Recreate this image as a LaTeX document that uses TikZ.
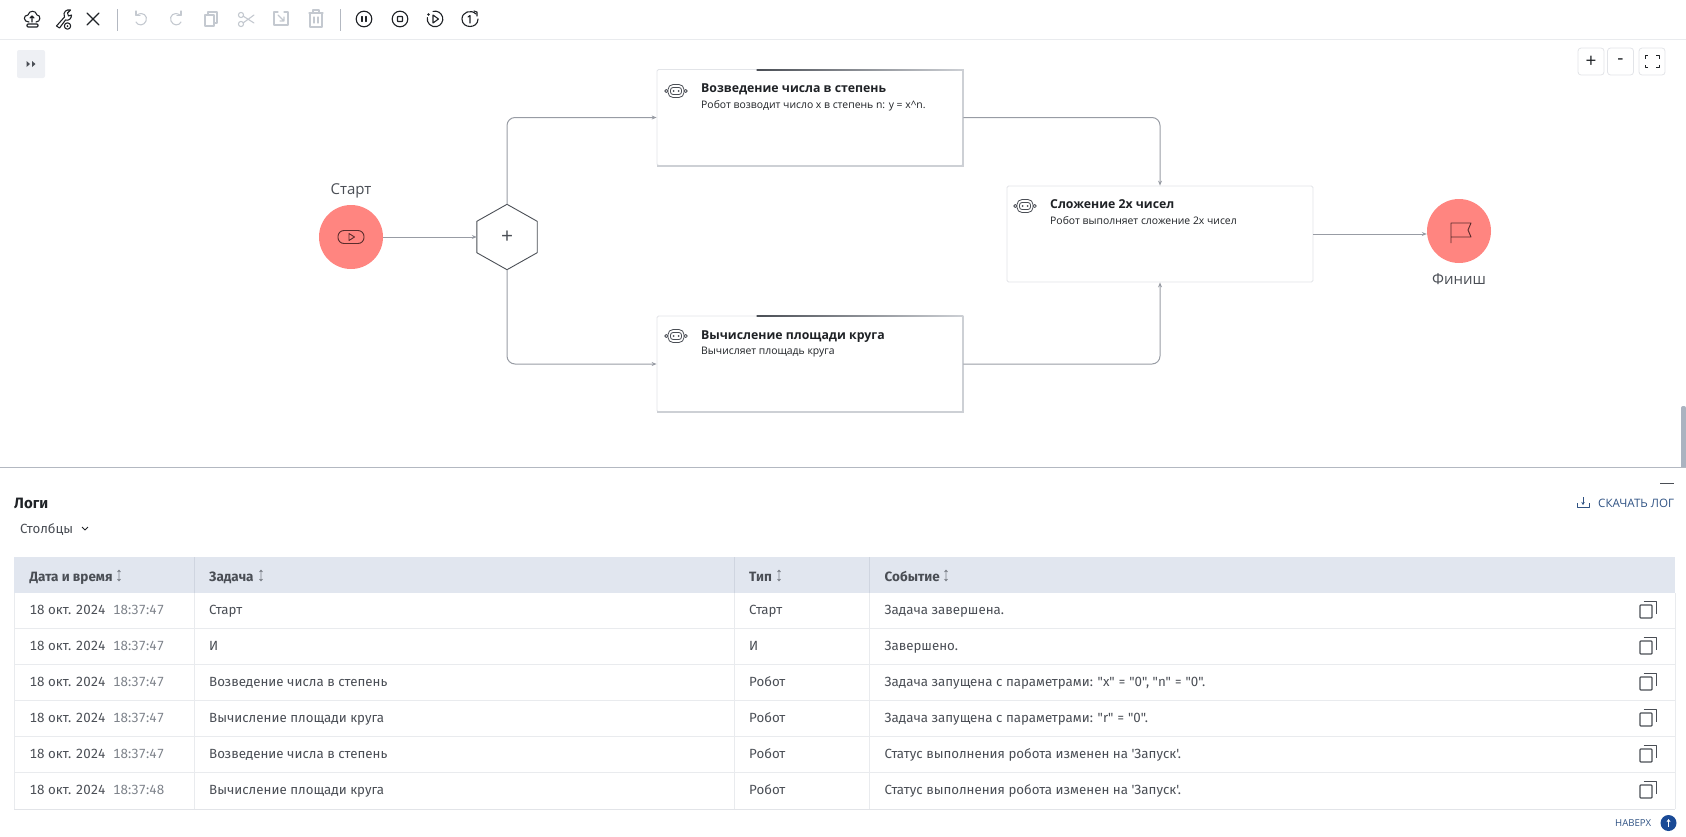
\documentclass[tikz,border=0pt]{standalone}
\usepackage{fontspec}
\setmainfont{Open Sans}
\newfontfamily\plexlike{Fira Sans}[Numbers=Monospaced]
\usetikzlibrary{arrows.meta}
\definecolor{startred}{HTML}{FF8580}
\definecolor{darkred}{HTML}{5A2C2C}
\definecolor{inkdark}{HTML}{1F2226}
\definecolor{inkgrey}{HTML}{4A4E55}
\definecolor{timegrey}{HTML}{7D828A}
\definecolor{flowgrey}{HTML}{989CA4}
\definecolor{iconoff}{HTML}{C4C9D0}
\definecolor{cardedge}{HTML}{E2E4E8}
\definecolor{cardshade}{HTML}{CDD0D5}
\definecolor{headfill}{HTML}{E1E6EF}
\definecolor{headline}{HTML}{CFD5E0}
\definecolor{rowline}{HTML}{E9EBEE}
\definecolor{btnfill}{HTML}{EEF0F4}
\definecolor{linkblue}{HTML}{2F5283}
\definecolor{topblue}{HTML}{1A4A96}
\definecolor{barline}{HTML}{B3B8C1}
\definecolor{scrollgrey}{HTML}{AAB3C0}
\tikzset{
	flowline/.style={flowgrey,line width=1pt,rounded corners=8pt,-{Stealth[length=5pt,width=4pt]}},
	eventdisc/.style={circle,fill=startred,minimum size=64pt,inner sep=0},
	eventname/.style={inner sep=0,text=inkgrey,font=\fontsize{15}{18}\selectfont},
	cardbox/.style={draw=cardedge,fill=white,line width=.8pt,rounded corners=1.5pt,minimum width=306pt,minimum height=96pt,inner sep=0},
	cardtitle/.style={anchor=base west,inner sep=0,text=inkdark,font=\fontsize{12.3}{16}\selectfont\bfseries},
	carddesc/.style={anchor=base west,inner sep=0,text=inkdark,font=\fontsize{10.4}{12}\selectfont},
	celltext/.style={anchor=base west,inner sep=0,text=inkgrey,font=\plexlike\fontsize{13.3}{16}\selectfont},
	headtext/.style={celltext,font=\plexlike\fontsize{13.5}{16}\selectfont\bfseries},
	zoombtn/.style={draw=cardedge,fill=white,line width=.8pt,rounded corners=3pt,minimum width=26pt,minimum height=27pt,inner sep=0,text=inkdark,font=\fontsize{19}{20}\selectfont},
	iconon/.style={inkdark,line width=1.1pt,line cap=round,line join=round},
	icongrey/.style={iconoff,line width=1.1pt,line cap=round,line join=round},
	pics/roboticon/.style={code={
		\draw[inkgrey,line width=.8pt,rounded corners=5pt] (-8,-6.5) rectangle (8,6.5);
		\draw[inkgrey,line width=.8pt,rounded corners=2.5pt] (-5.5,-3.5) rectangle (5.5,3.5);
		\fill[inkgrey] (-2.5,0) circle (1pt) (2.5,0) circle (1pt);
		\draw[inkgrey,line width=.8pt] (-9.7,0) circle (1.6pt) (9.7,0) circle (1.6pt);
	}},
	pics/copyicon/.style={code={
		\draw[inkgrey,line width=1.2pt,rounded corners=.8pt] (-8.5,-5) rectangle (3.5,8);
		\draw[inkgrey,line width=1pt] (-5,-9) -- (7.5,-9) -- (7.5,4);
	}},
	pics/sorticon/.style={code={
		\draw[timegrey,line width=.7pt] (0,-5.5) -- (0,5.5) (-1.5,-3.5) -- (0,-5.5) -- (1.5,-3.5) (-1.5,3.5) -- (0,5.5) -- (1.5,3.5);
	}},
}
\begin{document}
\begin{tikzpicture}[x=1pt,y=-1pt,>=stealth,line join=round]
	\useasboundingbox (0,0) rectangle (1686,836);
	% toolbar
	\draw[rowline,line width=.8pt] (0,39.5) -- (1686,39.5);
	\draw[barline,line width=.8pt] (117.5,9) -- (117.5,31);
	\draw[barline,line width=.8pt] (340.5,9) -- (340.5,31);
	\begin{scope}[shift={(32,19)},iconon]
		\draw (-3,3) .. controls (-9,3) and (-9,-4) .. (-4,-4) .. controls (-3,-9) and (4,-9) .. (5,-4) .. controls (9,-4) and (9,3) .. (4,3);
		\draw (0,3) -- (0,-3) (-2,-1) -- (0,-3) -- (2,-1);
		\draw[rounded corners=1pt] (-5,5) rectangle (6,8);
	\end{scope}
	\begin{scope}[shift={(62.5,19)},iconon]
		\draw (-6,7) -- (2,-2) .. controls (0,-7) and (4,-10) .. (8,-9) -- (5,-6) -- (6,-3) -- (9,-4) .. controls (9,0) and (6,2) .. (3,1) -- (-3,9) -- cycle;
		\draw (5,7) circle (3.2pt);
		\fill[inkdark] (5,7) circle (1pt);
	\end{scope}
	\draw[iconon] (87,13) -- (99,25) (99,13) -- (87,25);
	\begin{scope}[shift={(141,19)},icongrey]
		\draw (-4,-4) .. controls (2,-8) and (7,-3) .. (5,2) .. controls (3,7) and (-3,7) .. (-5,3);
		\draw (-5,-8) -- (-5,-3.5) -- (-1,-3.5);
	\end{scope}
	\begin{scope}[shift={(176,19)},icongrey]
		\draw (4,-4) .. controls (-2,-8) and (-7,-3) .. (-5,2) .. controls (-3,7) and (3,7) .. (5,3);
		\draw (5,-8) -- (5,-3.5) -- (1,-3.5);
	\end{scope}
	\begin{scope}[shift={(211,19)},icongrey]
		\draw (-6,-4) rectangle (3,7);
		\draw (-3,-4) -- (-3,-7) -- (6,-7) -- (6,4) -- (3,4);
	\end{scope}
	\begin{scope}[shift={(246,19)},icongrey]
		\draw (-5,-4) circle (2.6pt) (-5,5) circle (2.6pt);
		\draw (-3,-3) -- (8,4) (-3,4) -- (8,-4);
	\end{scope}
	\begin{scope}[shift={(281,19)},icongrey]
		\draw (-3,-7) -- (-7,-7) -- (-7,6) -- (7,6) -- (7,-7) -- (3,-7);
		\draw (-3,-4) -- (3,2) (3,-2) -- (3,2) -- (-1,2);
	\end{scope}
	\begin{scope}[shift={(316,19)},icongrey]
		\draw (-7,-6) -- (7,-6) (-3,-6) -- (-3,-9) -- (3,-9) -- (3,-6);
		\draw (-6,-6) -- (-6,8) -- (6,8) -- (6,-6);
		\draw (-2,-2) -- (-2,4) (2,-2) -- (2,4);
	\end{scope}
	\begin{scope}[shift={(364,19)},iconon]
		\draw (0,0) circle (7.8pt);
		\draw (-2,-2.5) -- (-2,2.5) (2,-2.5) -- (2,2.5);
	\end{scope}
	\begin{scope}[shift={(400,19)},iconon]
		\draw (0,0) circle (7.8pt);
		\draw[rounded corners=.5pt] (-2.5,-2.5) rectangle (2.5,2.5);
	\end{scope}
	\begin{scope}[shift={(435,19)},iconon]
		\draw (-2,-7.6) arc (105:-190:7.8pt);
		\draw (-2,-4) -- (3.5,0) -- (-2,4) -- cycle;
		\fill[inkdark] (-6.5,-4.5) circle (1.3pt);
	\end{scope}
	\begin{scope}[shift={(470,19)},iconon]
		\draw (6,-5) .. controls (1,-10) and (-8,-7) .. (-8,0) .. controls (-8,10) and (8,10) .. (8,0);
		\draw (4,-8) -- (7,-7) -- (7,-3);
		\draw (-2,-2) -- (0,-3.5) -- (0,4);
	\end{scope}
	\fill[btnfill,rounded corners=2pt] (17,50) rectangle (45,78);
	\fill[inkgrey] (26.5,61) -- (30,64) -- (26.5,67) -- cycle (32,61) -- (35.5,64) -- (32,67) -- cycle;
	% zoom buttons
	\node[zoombtn] (zoomin) at (1591,61.5) {+};
	\node[zoombtn] (zoomout) at (1620.5,61.5) {-};
	\node[zoombtn] (zoomfit) at (1652,61.5) {};
	\draw[inkdark,line width=.8pt] (zoomfit.center) +(-7,-3) -- +(-7,-6) -- +(-4,-6) +(4,-6) -- +(7,-6) -- +(7,-3) +(7,3) -- +(7,6) -- +(4,6) +(-4,6) -- +(-7,6) -- +(-7,3);
	% process
	\node[eventdisc] (start) at (351,237) {};
	\node[eventname,above=0pt] (startname) at (351,198) {Старт};
	\draw[darkred,line width=.9pt,rounded corners=6pt] (338,230.5) rectangle (364,243.5);
	\draw[darkred,line width=.9pt] (349,233.5) -- (354.5,237) -- (349,240.5) -- cycle;
	\node[minimum width=60pt,minimum height=65pt,inner sep=0,font=\fontsize{21}{22}\selectfont,text=inkgrey] (gate) at (507,237) {+};
	\draw[inkgrey,line width=.9pt] (gate.north) -- ([yshift=-17pt]gate.north east) -- ([yshift=17pt]gate.south east) -- (gate.south) -- ([yshift=17pt]gate.south west) -- ([yshift=-17pt]gate.north west) -- cycle;
	\node[cardbox] (powercard) at (810,117.5) {};
	\node[cardbox] (areacard) at (810,364) {};
	\node[cardbox] (sumcard) at (1160,234) {};
	\foreach \c in {powercard,areacard} {
		\fill[cardshade] ([xshift=-1pt]\c.north east) rectangle ([xshift=1pt]\c.south east);
		\fill[cardshade] ([yshift=1pt]\c.south west) rectangle ([xshift=1pt,yshift=-1pt]\c.south east);
		\shade[left color=inkgrey,right color=cardshade] ([xshift=100pt]\c.north west) rectangle ([yshift=-1pt]\c.north east);
	}
	\pic at (676,91) {roboticon};
	\pic at (676,336) {roboticon};
	\pic at (1025,206) {roboticon};
	\node[cardtitle] (powertitle) at (701,92) {Возведение числа в степень};
	\node[carddesc] (powerdesc) at (701,108.5) {Робот возводит число x в степень n: y = x\textasciicircum n.};
	\node[cardtitle] (areatitle) at (701,339) {Вычисление площади круга};
	\node[carddesc] (areadesc) at (701,354) {Вычисляет площадь круга};
	\node[cardtitle] (sumtitle) at (1050,208) {Сложение 2х чисел};
	\node[carddesc] (sumdesc) at (1050,224.5) {Робот выполняет сложение 2х чисел};
	\node[eventdisc] (finish) at (1459,231) {};
	\node[eventname,below=0pt] (finishname) at (1459,273) {Финиш};
	\draw[darkred,line width=.9pt] (1451,243) -- (1451,223) -- (1471,223) -- (1468,230) -- (1471,237) -- (1451,237);
	\begin{scope}[flowline]
		\draw (start.east) -- (gate.west);
		\draw (gate.north) |- (powercard.west);
		\draw (gate.south) |- (areacard.west);
		\draw (powercard.east) -| (sumcard.north);
		\draw (areacard.east) -| (sumcard.south);
		\draw (sumcard.east) -- (sumcard.east -| finish.west);
	\end{scope}
	% log panel
	\fill[scrollgrey,rounded corners=2pt] (1681,406) rectangle (1686,470);
	\fill[white] (1680,467.5) rectangle (1686,472);
	\draw[barline,line width=1pt] (0,467.5) -- (1686,467.5);
	\draw[inkgrey,line width=1pt] (1660,483.5) -- (1674,483.5);
	\node[anchor=base west,inner sep=0,text=inkdark,font=\plexlike\fontsize{15}{18}\selectfont\bfseries] (logtitle) at (14,508) {Логи};
	\node[celltext] (columns) at (20,533) {Столбцы};
	\draw[inkdark,line width=1pt] (82,527) -- (85,530) -- (88,527);
	\draw[linkblue,line width=.9pt] (1577,503) -- (1577,507.5) -- (1589,507.5) -- (1589,503);
	\draw[linkblue,line width=.9pt,-{Stealth[length=3pt,width=3.5pt]}] (1583,497) -- (1583,505);
	\node[anchor=base west,inner sep=0,text=linkblue,font=\fontsize{11.6}{12}\selectfont] (download) at (1598,507) {СКАЧАТЬ ЛОГ};
	% table
	\fill[headfill] (14,557) rectangle (1675,593);
	\foreach \y in {628.5,664.5,700.5,736.5,772.5} {
		\draw[rowline,line width=.8pt] (14,\y) -- (1675,\y);
	}
	\draw[rowline,line width=.8pt] (14,593) -- (14,809) (1675,593) -- (1675,809);
	\draw[cardedge,line width=1.6pt] (14,809.5) -- (1675,809.5);
	\foreach \x in {194.5,734,869.5} {
		\draw[headline,line width=.8pt] (\x,557) -- (\x,593);
		\draw[rowline,line width=.8pt] (\x,593) -- (\x,809);
	}
	\node[headtext] (headdate) at (29.5,581) {Дата и время};
	\node[headtext] (headtask) at (209,581) {Задача};
	\node[headtext] (headkind) at (749,581) {Тип};
	\node[headtext] (headevent) at (884.5,581) {Событие};
	\foreach \x in {119,261,779,946} {
		\pic at (\x,575.5) {sorticon};
	}
	\foreach \y/\stamp/\taskname/\kindname/\logevent [count=\n] in {
		614/18:37:47/Старт/Старт/{Задача завершена.},
		650/18:37:47/И/И/{Завершено.},
		686/18:37:47/Возведение числа в степень/Робот/{Задача запущена с параметрами: "x" = "0", "n" = "0".},
		722/18:37:47/Вычисление площади круга/Робот/{Задача запущена с параметрами: "r" = "0".},
		758/18:37:47/Возведение числа в степень/Робот/{Статус выполнения робота изменен на 'Запуск'.},
		794/18:37:48/Вычисление площади круга/Робот/{Статус выполнения робота изменен на 'Запуск'.}} {
		\node[celltext] (date\n) at (29.5,\y) {18 окт. 2024};
		\node[celltext,text=timegrey] (stamp\n) at (113,\y) {\stamp};
		\node[celltext] (task\n) at (209,\y) {\taskname};
		\node[celltext] (kind\n) at (749,\y) {\kindname};
		\node[celltext] (event\n) at (884.5,\y) {\logevent};
		\pic at (1648.5,\y-4) {copyicon};
	}
	% back to top
	\node[anchor=base west,inner sep=0,text=linkblue,font=\fontsize{9.6}{10}\selectfont] (totop) at (1615,826.5) {НАВЕРХ};
	\node[circle,fill=topblue,minimum size=16pt,inner sep=0] (topbtn) at (1668.5,823) {};
	\draw[white,line width=1pt,-{Stealth[length=3pt,width=4pt]}] ([yshift=-4pt]topbtn.center) -- ([yshift=4pt]topbtn.center);
\end{tikzpicture}
\end{document}
